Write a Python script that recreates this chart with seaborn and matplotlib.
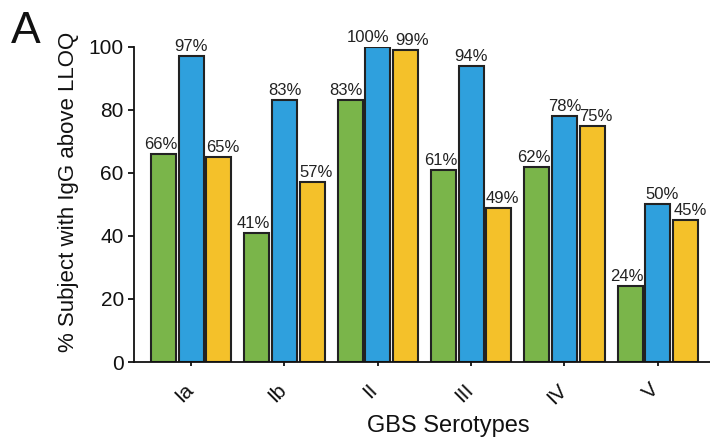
import pandas as pd
import numpy as np
import matplotlib
matplotlib.use("Agg")
import matplotlib.pyplot as plt
import matplotlib.transforms as mtransforms
import seaborn as sns

sns.set_style("ticks")
plt.rcParams['font.family'] = ['Liberation Sans', 'DejaVu Sans']

serotypes = ["Ia", "Ib", "II", "III", "IV", "V"]
groups = ["g1", "g2", "g3"]
green_vals = [66, 41, 83, 61, 62, 24]
blue_vals = [97, 83, 100, 94, 78, 50]
yellow_vals = [65, 57, 99, 49, 75, 45]
colors = ["#7ab54a", "#2fa0dd", "#f4c12a"]

df = pd.DataFrame({
    "serotype": serotypes * 3,
    "group": np.repeat(groups, len(serotypes)),
    "value": green_vals + blue_vals + yellow_vals,
})

fig = plt.figure(figsize=(7.1, 4.38), dpi=100)
ax = fig.add_axes([0.189, 0.1735, 0.811, 0.7195])

sns.barplot(data=df, x="serotype", y="value", hue="group", palette=colors,
            saturation=1, width=0.89, gap=0.1, edgecolor="#222222",
            linewidth=1.5, legend=False, ax=ax)

# label nudges in pixels (per hue group, plus a few crowded ones)
base_shift = [-3, 0, 4]
extra_shift = {(0, 2): -1, (1, 2): -10, (2, 2): 3, (1, 5): 4, (2, 5): 1}
for gi, cont in enumerate(ax.containers):
    anns = ax.bar_label(cont, fmt="%d%%", padding=1.5, fontsize=12, color="#222222")
    for si, ann in enumerate(anns):
        dx = base_shift[gi] + extra_shift.get((gi, si), 0)
        ann.xyann = (dx * 0.72, 1.5)

ax.set_ylim(0, 100)
ax.set_xlim(-0.61, 5.56)
ax.set_yticks([0, 20, 40, 60, 80, 100])
ax.tick_params(axis="y", labelsize=15, length=4, width=1.3, colors="#111111")
ax.tick_params(axis="x", labelsize=15, length=3, width=1.3, pad=10, colors="#111111")
shift = mtransforms.ScaledTranslation(-7 / 100, 0, fig.dpi_scale_trans)
for lab in ax.get_xticklabels():
    lab.set_rotation(45)
    lab.set_ha("center")
    lab.set_transform(lab.get_transform() + shift)
ax.set_ylabel("% Subject with IgG above LLOQ", fontsize=16, color="#111111")
ax.yaxis.set_label_coords(-0.095, 0.54)
ax.set_xlabel("GBS Serotypes", fontsize=17, color="#111111")
ax.xaxis.set_label_coords(0.546, -0.168)
sns.despine(ax=ax)
for s in ["left", "bottom"]:
    ax.spines[s].set_linewidth(1.3)
    ax.spines[s].set_color("#111111")

fig.text(0.015, 0.975, "A", fontsize=32, va="top", ha="left", color="#111111")

fig.savefig("out.png", dpi=100)
